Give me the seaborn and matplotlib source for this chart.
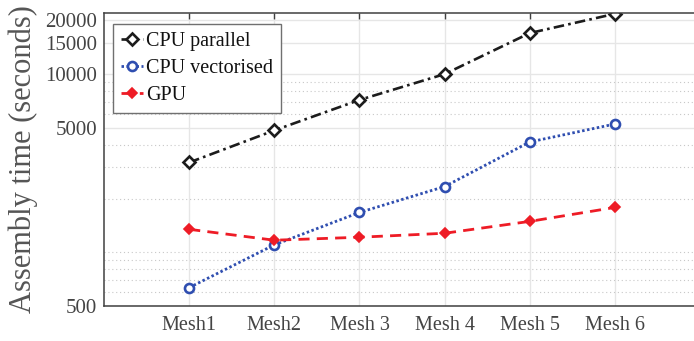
import numpy as np
import pandas as pd
import matplotlib
matplotlib.use("Agg")
import matplotlib.pyplot as plt
import matplotlib.ticker as mticker
import seaborn as sns

# values (seconds, log scale)
meshes = [1, 2, 3, 4, 5, 6]
mesh_labels = ["Mesh1", "Mesh2", "Mesh 3", "Mesh 4", "Mesh 5", "Mesh 6"]
cpu_parallel = [3190, 4830, 7160, 10000, 16990, 21800]
cpu_vectorised = [633, 1100, 1673, 2337, 4160, 5245]
gpu = [1345, 1168, 1214, 1278, 1490, 1784]

y_major = [500, 5000, 10000, 15000, 20000]
y_minor = [600, 700, 800, 900, 1000, 2000, 3000, 4000, 6000, 7000, 8000, 9000]

sns.set_theme(style="white")
plt.rcParams["font.family"] = ["Liberation Serif", "DejaVu Serif"]

fig = plt.figure(figsize=(6.94, 3.41), dpi=100)
ax = fig.add_axes([0.1499, 0.1026, 0.8588, 0.859])

sns.lineplot(x=meshes, y=cpu_parallel, ax=ax, color="#1c1c1c", linestyle=(0, (4, 1.6, 1, 1.6)),
             linewidth=1.9, marker="D", markersize=6.5, markerfacecolor="white",
             markeredgecolor="#1c1c1c", markeredgewidth=1.9, label="CPU parallel")
sns.lineplot(x=meshes, y=cpu_vectorised, ax=ax, color="#2f4eb0", linestyle=(0, (0.9, 0.9)),
             linewidth=2.0, marker="o", markersize=6.5, markerfacecolor="white",
             markeredgecolor="#2f4eb0", markeredgewidth=1.9, label="CPU vectorised")
sns.lineplot(x=meshes, y=gpu, ax=ax, color="#ee1c26", linestyle=(0, (4, 2.6)),
             linewidth=2.0, marker="D", markersize=5.5, markerfacecolor="#ee1c26",
             markeredgecolor="#ee1c26", markeredgewidth=1.2, label="GPU")

ax.set_yscale("log")
ax.set_xlim(0, 7)
ax.set_ylim(499, 22000)

ax.yaxis.set_major_locator(mticker.FixedLocator(y_major))
ax.yaxis.set_major_formatter(mticker.FixedFormatter([str(v) for v in y_major]))
ax.yaxis.set_minor_locator(mticker.FixedLocator(y_minor))
ax.yaxis.set_minor_formatter(mticker.NullFormatter())
ax.set_xticks(meshes)
ax.set_xticklabels(mesh_labels)

ax.grid(True, which="major", color="#e6e6e6", linewidth=1.0, linestyle="-")
ax.grid(True, which="minor", axis="y", color="#c8c8c8", linewidth=0.8, linestyle=(0, (1, 2.5)))
ax.set_axisbelow(True)

for side in ["left", "bottom", "top"]:
    ax.spines[side].set_color("#404040")
    ax.spines[side].set_linewidth(1.1)
ax.spines["right"].set_visible(False)

ax.tick_params(axis="x", which="major", direction="in", length=4, width=1, color="#404040",
               top=True, labelsize=14.5, labelcolor="#444444", pad=7)
ax.tick_params(axis="y", which="major", direction="in", length=4, width=1, color="#404040",
               labelsize=15, labelcolor="#444444", pad=5)
ax.tick_params(axis="y", which="minor", direction="in", length=2.5, width=0.8, color="#404040")

ax.set_xlabel("")
ax.set_ylabel("Assembly time (seconds)", fontsize=22, color="#555555", labelpad=5)

leg = ax.legend(loc="upper left", bbox_to_anchor=(0.015, 0.962), borderaxespad=0,
                fontsize=14.5, frameon=True, fancybox=False, edgecolor="#707070",
                handlelength=1.1, handletextpad=0.15, labelspacing=0.38,
                borderpad=0.4, framealpha=1)
leg.get_frame().set_linewidth(1.0)
for t in leg.get_texts():
    t.set_color("#111111")

fig.savefig("out.png", dpi=100)
